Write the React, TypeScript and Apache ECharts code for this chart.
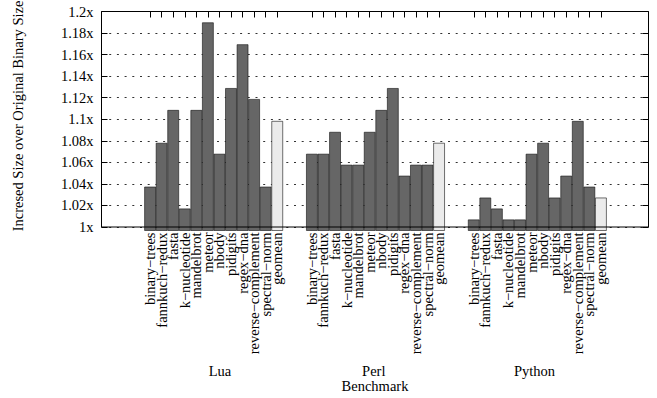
import React, { useEffect, useRef } from "react";
import * as echarts from "echarts";

const benchmarks = [
  "binary−trees",
  "fannkuch−redux",
  "fasta",
  "k−nucleotide",
  "mandelbrot",
  "meteor",
  "nbody",
  "pidigits",
  "regex−dna",
  "reverse−complement",
  "spectral−norm",
  "geomean",
];
const languages = ["Lua", "Perl", "Python"];
const luaValues = [1.04, 1.08, 1.11, 1.02, 1.11, 1.19, 1.07, 1.13, 1.17, 1.12, 1.04, 1.1];
const perlValues = [1.07, 1.07, 1.09, 1.06, 1.06, 1.09, 1.11, 1.13, 1.05, 1.06, 1.06, 1.08];
const pythonValues = [1.01, 1.03, 1.02, 1.01, 1.01, 1.07, 1.08, 1.03, 1.05, 1.1, 1.04, 1.03];
const groupValues = [luaValues, perlValues, pythonValues];
const yTicks = { min: 1, max: 1.2, interval: 0.02 };
const yTitle = "Incresed Size over Original Binary Size";
const xTitle = "Benchmark";

// layout
const W = 657;
const H = 398;
const LEAD = 4; // blank slots before first group
const GAP = 2; // blank slots between groups
const TAIL = 4;
const SLOT = 11.56;
const BARS_LEFT = 144.3;
const FRAME = { left: 101.5, right: 8.5, top: 11.5, bottom: 167.5 };
const FONT = "'Liberation Serif', 'Times New Roman', serif";
const FS = 14.5;
const DARK = "#666666";
const LIGHT = "#ebebeb";
const groupLabelShift = [0.55, -0.15, -0.25];

export default function App() {
  const ref = useRef<HTMLDivElement>(null);
  useEffect(() => {
    if (!ref.current) return;
    const chart = echarts.init(ref.current, undefined, { renderer: "svg" });

    const cats: string[] = [];
    const data: any[] = [];
    const groupStart: number[] = [];
    for (let i = 0; i < LEAD; i++) {
      cats.push("");
      data.push("-");
    }
    groupValues.forEach((vals, g) => {
      if (g > 0) {
        for (let i = 0; i < GAP; i++) {
          cats.push("");
          data.push("-");
        }
      }
      groupStart.push(cats.length);
      vals.forEach((v, i) => {
        cats.push(benchmarks[i]);
        data.push({
          value: v,
          itemStyle: { color: benchmarks[i] === "geomean" ? LIGHT : DARK },
        });
      });
    });
    for (let i = 0; i < TAIL; i++) {
      cats.push("");
      data.push("-");
    }
    const n = cats.length;
    const barsGridLeft = BARS_LEFT - LEAD * SLOT;
    const barsGridWidth = n * SLOT;

    const yCommon = {
      type: "value" as const,
      min: yTicks.min,
      max: yTicks.max,
      interval: yTicks.interval,
    };

    const option: any = {
      animation: false,
      backgroundColor: "#fff",
      grid: [
        {
          left: FRAME.left,
          right: FRAME.right,
          top: FRAME.top,
          bottom: FRAME.bottom,
          show: true,
          borderColor: "#000",
          borderWidth: 1,
          backgroundColor: "transparent",
          z: 5,
        },
        {
          left: barsGridLeft,
          width: barsGridWidth,
          top: FRAME.top,
          bottom: FRAME.bottom,
        },
      ],
      xAxis: [
        {
          gridIndex: 0,
          type: "category",
          data: [""],
          axisLine: { show: false },
          axisTick: { show: false },
          axisLabel: { show: false },
          name: xTitle,
          nameLocation: "middle",
          nameGap: 151,
          nameTextStyle: { fontFamily: FONT, fontSize: FS, color: "#000" },
        },
        {
          gridIndex: 1,
          type: "category",
          data: cats,
          position: "bottom",
          axisLine: { show: false },
          axisTick: { show: false },
          axisLabel: {
            interval: 0,
            rotate: 90,
            margin: 2,
            fontFamily: FONT,
            fontSize: FS,
            color: "#000",
            lineHeight: FS,
          },
        },
        {
          gridIndex: 1,
          type: "category",
          data: cats,
          position: "top",
          axisLine: { show: false },
          axisLabel: { show: false },
          axisTick: {
            show: true,
            inside: true,
            length: 6,
            alignWithLabel: true,
            interval: (_i: number, v: string) => v !== "",
            lineStyle: { color: "#000", width: 1 },
          },
        },
      ],
      yAxis: [
        {
          ...yCommon,
          gridIndex: 0,
          position: "left",
          axisLine: { show: false },
          axisTick: { show: true, inside: true, length: 6, lineStyle: { color: "#000" } },
          axisLabel: {
            margin: 8,
            fontFamily: FONT,
            fontSize: FS,
            color: "#000",
            formatter: (v: number) =>
              Math.abs(v - 1) < 1e-9 ? "1x" : v.toFixed(2).replace(/0$/, "") + "x",
          },
          splitLine: {
            show: true,
            lineStyle: { color: "#333", width: 1, type: [2, 5.7] },
          },
        },
        {
          ...yCommon,
          gridIndex: 0,
          position: "right",
          axisLine: { show: false },
          axisTick: { show: true, inside: true, length: 6, lineStyle: { color: "#000" } },
          axisLabel: { show: false },
          splitLine: { show: false },
        },
        {
          ...yCommon,
          gridIndex: 1,
          show: false,
        },
      ],
      series: [
        {
          type: "bar",
          xAxisIndex: 1,
          yAxisIndex: 2,
          data,
          barWidth: SLOT,
          barGap: "0%",
          barCategoryGap: "0%",
          itemStyle: { borderColor: "#111", borderWidth: 0.6 },
        },
      ],
      graphic: [
        ...languages.map((lang, g) => ({
          type: "text",
          x: barsGridLeft + (groupStart[g] + benchmarks.length / 2 + groupLabelShift[g]) * SLOT,
          y: 371,
          style: {
            text: lang,
            fontFamily: FONT,
            fontSize: FS,
            fill: "#000",
            textAlign: "center",
            textVerticalAlign: "middle",
          },
        })),
        {
          type: "text",
          x: 18,
          y: 116,
          rotation: Math.PI / 2,
          style: {
            text: yTitle,
            fontFamily: FONT,
            fontSize: FS,
            fill: "#000",
            textAlign: "center",
            textVerticalAlign: "middle",
          },
        },
      ],
    };
    chart.setOption(option);
    return () => chart.dispose();
  }, []);
  return (
    <div
      ref={ref}
      style={{ position: "fixed", left: 0, top: 0, width: W, height: H, background: "#fff" }}
    />
  );
}
